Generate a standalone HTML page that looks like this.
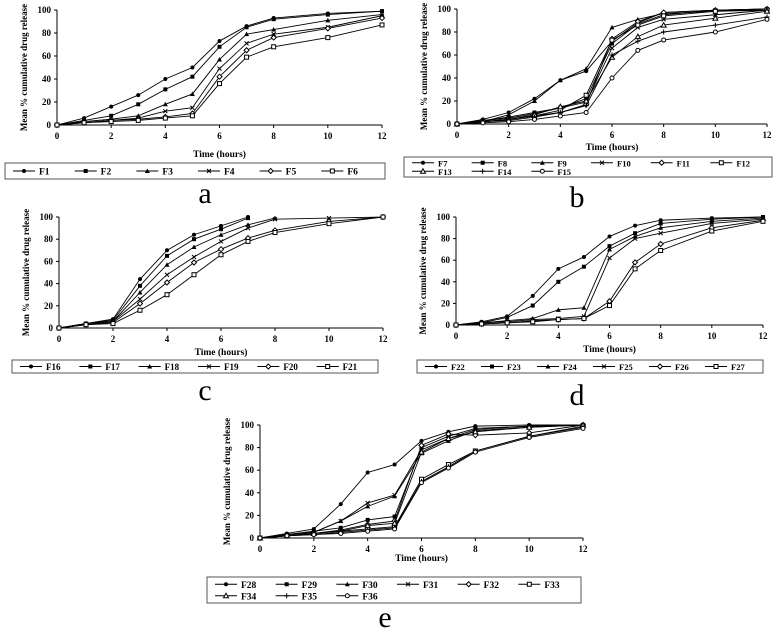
<!DOCTYPE html><html><head><style>body{margin:0;background:#fff}svg{display:block}</style></head><body>
<svg id="s" width="782" height="633" xmlns="http://www.w3.org/2000/svg" font-family="Liberation Serif, serif"></svg>
<script>
const S=document.getElementById('s');let h='';
const T=[0,1,2,3,4,5,6,7,8,10,12];
const mk=['dot','sq','tri','x','dia','osq','otri','plus','o'];
function marker(t,x,y){switch(t){case'dot':return`<circle cx="${x}" cy="${y}" r="2" fill="#000"/>`;case'sq':return`<rect x="${x-2}" y="${y-2}" width="4" height="4" fill="#000"/>`;case'tri':return`<path d="M${x} ${y-2.5}L${x+2.5} ${y+2}L${x-2.5} ${y+2}Z" fill="#000"/>`;case'x':return`<path d="M${x-2} ${y-2}L${x+2} ${y+2}M${x+2} ${y-2}L${x-2} ${y+2}" stroke="#000"/>`;case'dia':return`<path d="M${x} ${y-2.5}L${x+2.5} ${y}L${x} ${y+2.5}L${x-2.5} ${y}Z" fill="#fff" stroke="#000"/>`;case'osq':return`<rect x="${x-2}" y="${y-2}" width="4" height="4" fill="#fff" stroke="#000"/>`;case'otri':return`<path d="M${x} ${y-2.5}L${x+2.5} ${y+2}L${x-2.5} ${y+2}Z" fill="#fff" stroke="#000"/>`;case'plus':return`<path d="M${x-2.5} ${y}L${x+2.5} ${y}M${x} ${y-2.5}L${x} ${y+2.5}" stroke="#000"/>`;default:return`<circle cx="${x}" cy="${y}" r="2" fill="#fff" stroke="#000"/>`}}
function panel(p){const{x0,x1,y0,y1,data,names,lx,ly,lw,cols,rowh,label,lbx,lby,tly,fs}=p;
const X=t=>x0+(x1-x0)*t/12,Y=v=>y0+(y1-y0)*v/100;
h+=`<line x1="${x0}" y1="${y1}" x2="${x0}" y2="${y0}" stroke="#000"/><line x1="${x0}" y1="${y0}" x2="${x1}" y2="${y0}" stroke="#000"/>`;
for(let v=0;v<=100;v+=20){h+=`<line x1="${x0-3}" x2="${x0}" y1="${Y(v)}" y2="${Y(v)}" stroke="#000"/><text x="${x0-6}" y="${Y(v)+3}" font-size="9" font-weight="bold" text-anchor="end">${v}</text>`}
for(let t=0;t<=12;t+=2){h+=`<line x1="${X(t)}" x2="${X(t)}" y1="${y0}" y2="${y0+3}" stroke="#000"/><text x="${X(t)}" y="${y0+14}" font-size="9" font-weight="bold" text-anchor="middle">${t}</text>`}
h+=`<text x="${(x0+x1)/2}" y="${tly}" font-size="9.5" font-weight="bold" text-anchor="middle">Time (hours)</text>`;
h+=`<text transform="translate(${x0-30},${(y0+y1)/2}) rotate(-90)" font-size="${y0-y1<100?8:9}" font-weight="bold" text-anchor="middle">Mean % cumulative drug release</text>`;
data.forEach((d,i)=>{h+=`<polyline fill="none" stroke="#000" stroke-width="0.9" points="${d.map((v,j)=>X(T[j])+','+Y(v)).join(' ')}"/>`;d.forEach((v,j)=>h+=marker(mk[i%9],X(T[j]),Y(v)))});
const rows=Math.ceil(names.length/cols);h+=`<rect x="${lx}" y="${ly}" width="${lw}" height="${rows*rowh+3}" fill="none" stroke="#555"/>`;
names.forEach((n,i)=>{const c=i%cols,r=Math.floor(i/cols),cx=lx+8+c*(lw-10)/cols,cy=ly+1.5+rowh*r+rowh/2;h+=`<line x1="${cx}" x2="${cx+22}" y1="${cy}" y2="${cy}" stroke="#000"/>`+marker(mk[i%9],cx+11,cy)+`<text x="${cx+26}" y="${cy+3.5}" font-size="${fs||9.5}" font-weight="bold">${n}</text>`});
h+=`<text x="${lbx}" y="${lby}" font-size="30" text-anchor="middle">${label}</text>`}
panel({x0:57,x1:382,y0:125,y1:10,tly:157,lx:5,ly:163,lw:380,cols:6,rowh:13,label:'a',lbx:205,lby:203,names:['F1','F2','F3','F4','F5','F6'],data:[
[0,6,16,26,40,50,73,86,93,97,99],[0,4,8,18,31,42,68,85,92,96,99],[0,3,5,8,18,27,57,79,83,91,96],[0,2,4,6,12,15,49,71,79,85,95],[0,2,4,5,7,10,42,65,76,84,93],[0,2,3,4,6,8,36,59,68,76,87]]});
panel({x0:457,x1:767,y0:124,y1:9,tly:150,lx:404,ly:157,lw:368,cols:6,rowh:8.5,fs:8.5,label:'b',lbx:577,lby:207,names:['F7','F8','F9','F10','F11','F12','F13','F14','F15'],data:[
[0,4,10,22,38,46,72,88,97,99,100],[0,3,6,10,14,22,70,87,95,99,100],[0,2,8,20,38,48,84,91,96,98,100],[0,3,5,9,14,19,66,84,91,95,99],[0,2,4,7,10,17,74,89,97,99,100],[0,2,4,7,12,25,73,86,94,98,99],[0,2,4,8,15,20,58,76,86,92,98],[0,2,3,6,10,16,60,72,80,86,93],[0,1,2,4,7,10,40,64,73,80,91]]});
panel({x0:59,x1:383,y0:328,y1:217,tly:355,lx:12,ly:360,lw:366,cols:6,rowh:10,fs:9,label:'c',lbx:205,lby:400,names:['F16','F17','F18','F19','F20','F21'],data:[
[0,4,8,44,70,84,92,100],[0,4,7,38,65,80,89,99],[0,4,6,32,57,73,84,93,99],[0,3,6,26,48,64,78,90,98,99,100],[0,3,5,22,41,59,71,81,88,96,100],[0,3,4,16,30,48,66,78,86,94,100]]});
panel({x0:456,x1:763,y0:325,y1:217,tly:352,lx:417,ly:360,lw:346,cols:6,rowh:10,fs:8.5,label:'d',lbx:577,lby:405,names:['F22','F23','F24','F25','F26','F27'],data:[
[0,3,8,27,52,63,82,92,97,99,100],[0,2,7,18,40,54,73,85,94,98,100],[0,2,4,6,14,16,70,82,90,96,99],[0,2,3,5,6,8,62,80,85,94,98],[0,1,2,4,5,6,22,58,75,90,97],[0,1,2,3,5,6,18,52,69,87,96]]});
panel({x0:260,x1:583,y0:538,y1:425,tly:561,lx:207,ly:577,lw:374,cols:6,rowh:11.5,label:'e',lbx:385,lby:627,names:['F28','F29','F30','F31','F32','F33','F34','F35','F36'],data:[
[0,4,8,30,58,65,86,94,99,100,100],[0,3,6,9,16,19,80,90,97,99,100],[0,3,5,15,28,37,75,86,95,98,100],[0,3,5,15,31,38,78,88,96,99,100],[0,2,4,7,12,15,82,92,91,93,100],[0,2,4,6,8,10,52,65,77,90,99],[0,2,4,6,11,13,76,88,94,98,100],[0,2,3,5,7,9,50,63,77,90,98],[0,2,3,4,6,8,49,62,76,89,97]]});
S.innerHTML=h;
</script></body></html>
